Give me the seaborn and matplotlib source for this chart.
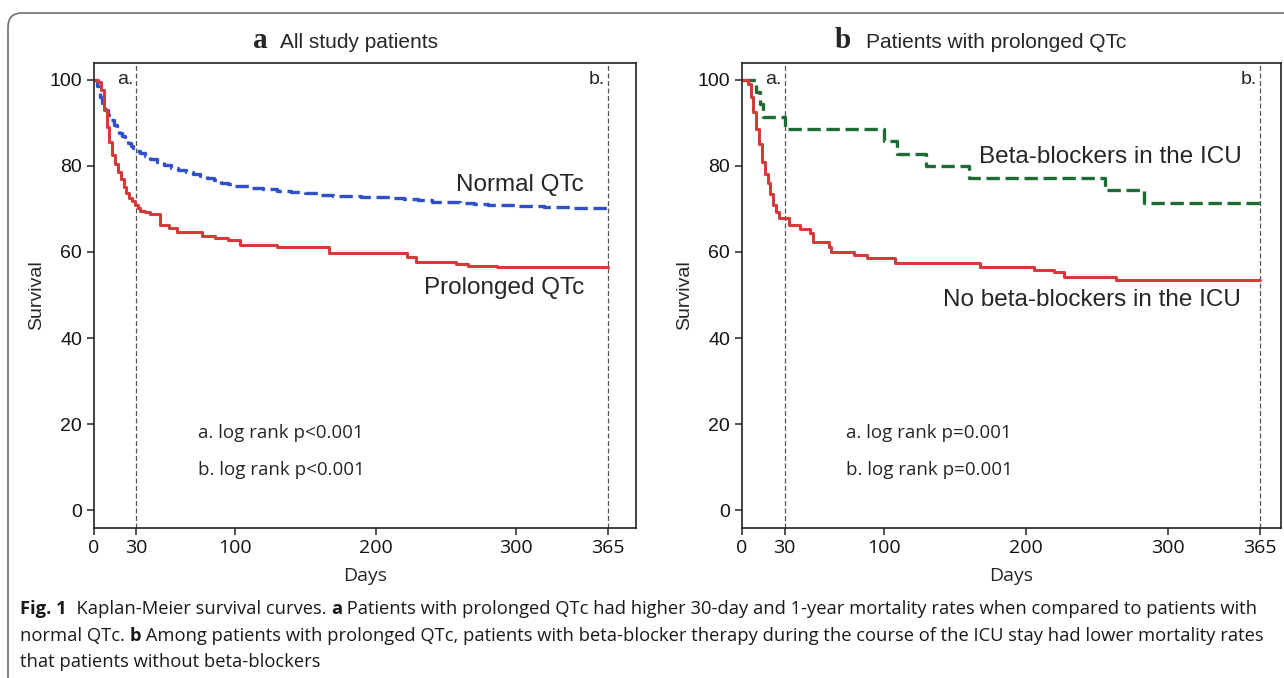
import matplotlib
matplotlib.use("Agg")
import matplotlib.pyplot as plt
from matplotlib.patches import FancyBboxPatch
import seaborn as sns
import pandas as pd

# --- data (days, survival %) ---
normal_days = [0, 2, 4, 6, 8, 10, 12, 14, 16, 18, 20, 22, 24, 26, 28, 30, 33, 36, 40, 45,
               50, 55, 60, 65, 70, 75, 80, 85, 90, 95, 100, 110, 120, 130, 140, 150, 160,
               170, 180, 190, 200, 210, 220, 230, 240, 250, 260, 270, 280, 290, 300, 310,
               320, 330, 340, 350, 365]
normal_surv = [100, 98.5, 96, 94.5, 93, 91.8, 90.6, 89.6, 88.6, 87.7, 86.9, 86.1, 85.4, 84.7,
               84.1, 83.5, 82.9, 82.3, 81.6, 80.8, 80.2, 79.5, 79.0, 78.5, 78.1, 77.6, 77.1,
               76.6, 76.1, 75.7, 75.3, 74.9, 74.6, 74.2, 73.9, 73.6, 73.3, 73.1, 72.9, 72.8,
               72.7, 72.5, 72.3, 72.0, 71.7, 71.5, 71.3, 71.1, 70.9, 70.8, 70.7, 70.6, 70.5,
               70.4, 70.3, 70.2, 70.1]

prolonged_days = [0, 3, 5, 7, 9, 11, 13, 15, 17, 19, 21, 23, 25, 27, 29, 31, 33, 36, 40, 47,
                  53, 59, 77, 86, 95, 104, 130, 167, 222, 229, 257, 266, 286, 365]
prolonged_surv = [100, 99.5, 97.5, 93, 89, 85.5, 82.5, 80.5, 78.5, 77, 75.2, 73.7, 72.5, 71.8,
                  71, 70.2, 69.6, 69.2, 68.8, 66.3, 65.5, 64.7, 63.8, 63.3, 62.8, 61.6, 61.1,
                  59.7, 58.9, 57.7, 57.2, 56.7, 56.4, 56.4]

bb_days = [0, 10, 12.7, 15, 30, 100, 109, 130, 160, 256, 283.5, 365]
bb_surv = [100, 97.14, 94.29, 91.43, 88.57, 85.71, 82.86, 80, 77.14, 74.29, 71.43, 71.43]

nobb_days = [0, 4, 6, 8, 10, 12, 14, 16, 18, 20, 22, 24, 26, 33, 41, 48, 50, 61, 63, 79, 88,
             108, 168, 206, 220, 227, 264, 365]
nobb_surv = [100, 99, 96, 92.5, 88.5, 85, 81, 78, 76, 73.5, 71, 69.3, 67.8, 66.3, 65.3, 64.3,
             62.2, 61.2, 60.1, 59.2, 58.5, 57.5, 56.4, 55.8, 55.3, 54.1, 53.5, 53.5]

x_ticks = [0, 30, 100, 200, 300, 365]
y_ticks = [0, 20, 40, 60, 80, 100]

RED = "#d63a3a"
BLUE = "#2f50c8"
GREEN = "#1e6b34"
ARIAL = ["Liberation Sans", "DejaVu Sans"]
SEGOE = ["Open Sans", "DejaVu Sans"]

sns.set_style("ticks")
plt.rcParams["font.family"] = ARIAL

W, H = 1284, 678
fig = plt.figure(figsize=(W / 100, H / 100), dpi=100)

# outer rounded frame of the journal figure
frame = FancyBboxPatch((8, -60), 1400, 673 + 60 - 8, boxstyle="round,pad=0,rounding_size=14",
                       transform=None, fill=False, edgecolor="#6e6e6e", linewidth=1.2)
fig.add_artist(frame)

bottom = (H - 527.5) / H
top = (H - 62.5) / H
ax_a = fig.add_axes([94 / W, bottom, (636 - 94) / W, top - bottom])
ax_b = fig.add_axes([742 / W, bottom, (1281 - 742) / W, top - bottom])


def km(ax, days, surv, color, ls, lw):
    df = pd.DataFrame({"Days": days, "Survival": surv})
    sns.lineplot(data=df, x="Days", y="Survival", ax=ax, color=color, estimator=None,
                 drawstyle="steps-post", linestyle=ls, linewidth=lw)


def style_panel(ax, xmax):
    ax.set_xlim(0, xmax)
    ax.set_ylim(-4, 104)
    ax.set_xticks(x_ticks)
    ax.set_yticks(y_ticks)
    for lab in ax.get_xticklabels():
        lab.set_family(SEGOE)
    for lab in ax.get_yticklabels():
        lab.set_family(ARIAL)
    ax.tick_params(axis="both", direction="out", length=5, width=1.1, labelsize=14,
                   color="#222222", labelcolor="#111111")
    for s in ax.spines.values():
        s.set_visible(True)
        s.set_color("#222222")
        s.set_linewidth(1.2)
    ax.set_xlabel("Days", fontsize=14, family=SEGOE, labelpad=7)
    ax.set_ylabel("Survival", fontsize=14, labelpad=3)
    for d in (30, 365):
        ax.axvline(d, color="#555555", linewidth=0.9, linestyle=(0, (4, 2)), zorder=1)
    ax.text(28, 100, "a.", ha="right", va="center", fontsize=14)
    ax.text(363, 100, "b.", ha="right", va="center", fontsize=14)


# panel a
km(ax_a, normal_days, normal_surv, BLUE, (0, (4, 1.7)), 2.4)
km(ax_a, prolonged_days, prolonged_surv, RED, "-", 2.2)
style_panel(ax_a, 385)
ax_a.text(348, 75.6, "Normal QTc", ha="right", va="center", fontsize=17.5)
ax_a.text(348, 51.6, "Prolonged QTc", ha="right", va="center", fontsize=17.5)
ax_a.text(74, 17.9, "a. log rank p<0.001", va="center", fontsize=13.5, family=SEGOE)
ax_a.text(74, 9.3, "b. log rank p<0.001", va="center", fontsize=13.5, family=SEGOE)

# panel b
km(ax_b, bb_days, bb_surv, GREEN, (0, (4, 1.7)), 2.4)
km(ax_b, nobb_days, nobb_surv, RED, "-", 2.2)
style_panel(ax_b, 380)
ax_b.text(352, 82, "Beta-blockers in the ICU", ha="right", va="center", fontsize=17.5)
ax_b.text(352, 48.8, "No beta-blockers in the ICU", ha="right", va="center", fontsize=17.5)
ax_b.text(73, 17.9, "a. log rank p=0.001", va="center", fontsize=13.5, family=SEGOE)
ax_b.text(73, 9.3, "b. log rank p=0.001", va="center", fontsize=13.5, family=SEGOE)

# panel titles: bold serif letter + narrow sans text
NARROW = ["Liberation Sans Narrow", "Liberation Sans", "DejaVu Sans"]
SERIF = ["Liberation Serif", "DejaVu Serif"]
ty = (H - 48) / H
fig.text(253 / W, ty, "a", fontsize=21, fontweight="bold", family=SERIF, va="baseline")
fig.text(280 / W, ty, "All study patients", fontsize=15, family=NARROW, va="baseline")
fig.text(835 / W, ty, "b", fontsize=21, fontweight="bold", family=SERIF, va="baseline")
fig.text(866 / W, ty, "Patients with prolonged QTc", fontsize=15, family=NARROW, va="baseline")

# caption with bold pieces
renderer = fig.canvas.get_renderer()
CAP = ["Open Sans", "DejaVu Sans"]
cap_size = 13.2
caption = [
    [("Fig. 1", True), ("  Kaplan-Meier survival curves. ", False), ("a", True),
     (" Patients with prolonged QTc had higher 30-day and 1-year mortality rates when compared to patients with", False)],
    [("normal QTc. ", False), ("b", True),
     (" Among patients with prolonged QTc, patients with beta-blocker therapy during the course of the ICU stay had lower mortality rates", False)],
    [("that patients without beta-blockers", False)],
]
cap_y = [609, 636, 662]
for line, yp in zip(caption, cap_y):
    x = 20 / W
    for txt, bold in line:
        t = fig.text(x, (H - yp) / H, txt, fontsize=cap_size, family=CAP, va="center",
                     fontweight="bold" if bold else "normal", color="#1a1a1a")
        x += t.get_window_extent(renderer).width / W

fig.savefig("out.png", dpi=100)
